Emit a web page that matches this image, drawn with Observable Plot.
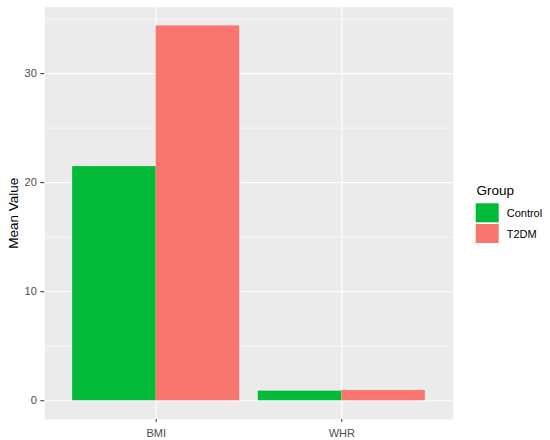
<!DOCTYPE html>
<html>
<head>
<meta charset="utf-8">
<script src="https://cdn.jsdelivr.net/npm/d3@7"></script>
<script src="https://cdn.jsdelivr.net/npm/@observablehq/plot@0.6"></script>
<style>
  body { margin: 0; background: white; }
  #chart { position: relative; width: 550px; height: 440px; font-family: "Liberation Sans", Arial, Helvetica, sans-serif; }
  #legend { position: absolute; left: 0; top: 0; pointer-events: none; }
</style>
</head>
<body>
<div id="chart"></div>
<script>
const variables = ["BMI", "WHR"];
const groups = ["Control", "T2DM"];
const controlValues = [21.47, 0.88];
const t2dmValues = [34.37, 0.94];
const yTicks = [0, 10, 20, 30];
const yMinorTicks = [5, 15, 25, 35];
const groupColors = ["#00BA38", "#F8766D"];
const yLabel = "Mean Value";
const legendTitle = "Group";

// ggplot-style discrete positions (1, 2, ...) with dodged bars of total width 0.9
const dodgeWidth = 0.9;
const positions = variables.map((v, i) => i + 1);
const data = variables.flatMap((v, i) => groups.map((g, gi) => ({
  variable: v,
  group: g,
  value: (gi === 0 ? controlValues : t2dmValues)[i],
  x1: positions[i] - dodgeWidth / 2 + gi * dodgeWidth / groups.length,
  x2: positions[i] - dodgeWidth / 2 + (gi + 1) * dodgeWidth / groups.length
})));

const yMax = d3.max(data, d => d.value);
const yDomain = [-0.05 * yMax, yMax * 1.05];
const xDomain = [positions[0] - 0.6, positions[positions.length - 1] + 0.6];
const xLabelOf = p => variables[positions.indexOf(p)];

const font = '"Liberation Sans", Arial, Helvetica, sans-serif';

const plot = Plot.plot({
  width: 550,
  height: 440,
  marginLeft: 44.3,
  marginRight: 97.3,
  marginTop: 6.7,
  marginBottom: 21,
  style: {fontFamily: font, fontSize: "11px", background: "white", overflow: "visible"},
  x: {domain: xDomain},
  y: {domain: yDomain},
  color: {domain: groups, range: groupColors},
  marks: [
    Plot.frame({fill: "#EBEBEB"}),
    Plot.gridY(yMinorTicks, {stroke: "white", strokeOpacity: 1, strokeWidth: 0.53}),
    Plot.gridY(yTicks, {stroke: "white", strokeOpacity: 1, strokeWidth: 1.07}),
    Plot.gridX(positions, {stroke: "white", strokeOpacity: 1, strokeWidth: 1.07}),
    Plot.rectY(data, {x1: "x1", x2: "x2", y: "value", fill: "group"}),
    Plot.axisY(yTicks, {tickSize: 4, tickPadding: 4, stroke: "#333333", fill: "#4D4D4D", fontSize: 11, label: null}),
    Plot.axisY([], {tickSize: 0, label: yLabel, labelAnchor: "center", labelArrow: "none", labelOffset: 36, fontSize: 13.5, fill: "black"}),
    Plot.axisX(positions, {tickSize: 3, tickPadding: 7, tickFormat: xLabelOf, stroke: "#333333", fill: "#4D4D4D", fontSize: 11, label: null})
  ]
});

const chart = document.getElementById("chart");
chart.appendChild(plot);

// Legend
const svg = d3.select(chart).append("svg")
  .attr("id", "legend")
  .attr("width", 550).attr("height", 440)
  .style("font-family", font);

svg.append("text")
  .attr("x", 476.5).attr("y", 195)
  .attr("font-size", 13.5).attr("fill", "black")
  .text(legendTitle);

const keys = svg.selectAll("g.key").data(groups).join("g")
  .attr("class", "key")
  .attr("transform", (d, i) => `translate(475.7, ${203.3 + i * 20.7})`);
keys.append("rect")
  .attr("width", 23).attr("height", 19)
  .attr("fill", (d, i) => groupColors[i]);
keys.append("text")
  .attr("x", 31).attr("y", 13.7)
  .attr("font-size", 11).attr("fill", "black")
  .text(d => d);
</script>
</body>
</html>
